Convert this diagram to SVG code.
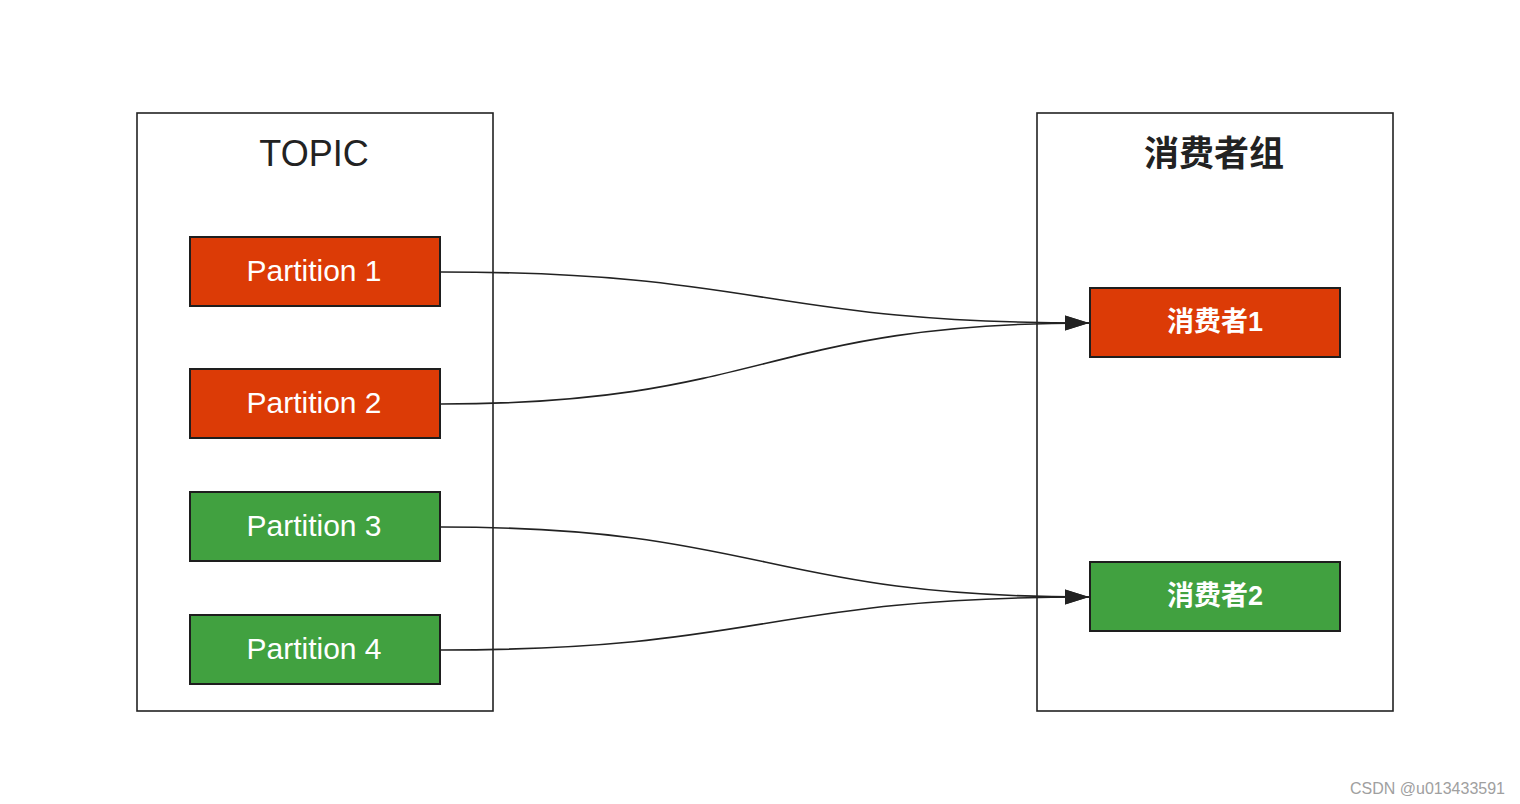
<svg xmlns="http://www.w3.org/2000/svg" width="1520" height="804" viewBox="0 0 1520 804">
<style>
.frame{fill:#fff;stroke:#222;stroke-width:1.6}
.red{fill:#DC3B06;stroke:#1e1e1e;stroke-width:2}
.green{fill:#41A140;stroke:#1e1e1e;stroke-width:2}
.ptxt{font-family:"Liberation Sans",Arial,sans-serif;font-size:30px;fill:#fff;text-anchor:middle}
.ctxt{font-family:"Liberation Sans","Noto Sans CJK SC",sans-serif;font-size:27px;font-weight:bold;fill:#fff;text-anchor:middle}
.title{font-family:"Liberation Sans",Arial,sans-serif;font-size:36px;fill:#222;text-anchor:middle}
.ctitle{font-family:"Noto Sans CJK SC",sans-serif;font-size:35px;font-weight:bold;fill:#222;text-anchor:middle}
.edge{fill:none;stroke:#222;stroke-width:1.6}
</style>
<defs>
<marker id="arr" markerUnits="userSpaceOnUse" markerWidth="25" markerHeight="16" refX="24" refY="8" orient="auto" viewBox="0 0 25 16">
<path d="M0,0.5 L24,8 L0,15.5 Z" fill="#222"/>
</marker>
</defs>
<rect width="1520" height="804" fill="#fff"/>
<g id="topic">
<rect class="frame" x="137" y="113" width="356" height="598"/>
<text class="title" x="314" y="166">TOPIC</text>
</g>
<g id="group">
<rect class="frame" x="1037" y="113" width="356" height="598"/>
<text class="ctitle" x="1214" y="166">消费者组</text>
</g>
<g id="p1"><rect class="red" x="190" y="237" width="250" height="69"/><text class="ptxt" x="314" y="281">Partition 1</text></g>
<g id="p2"><rect class="red" x="190" y="369" width="250" height="69"/><text class="ptxt" x="314" y="413">Partition 2</text></g>
<g id="p3"><rect class="green" x="190" y="492" width="250" height="69"/><text class="ptxt" x="314" y="536">Partition 3</text></g>
<g id="p4"><rect class="green" x="190" y="615" width="250" height="69"/><text class="ptxt" x="314" y="659">Partition 4</text></g>
<g id="c1"><rect class="red" x="1090" y="288" width="250" height="69"/><text class="ctxt" x="1215" y="331">消费者1</text></g>
<g id="c2"><rect class="green" x="1090" y="562" width="250" height="69"/><text class="ctxt" x="1215" y="605">消费者2</text></g>
<g id="connectors">
<path class="edge" d="M441,272 C765,272 765,323 1089,323" marker-end="url(#arr)"/>
<path class="edge" d="M441,404 C765,404 765,323 1089,323" marker-end="url(#arr)"/>
<path class="edge" d="M441,527 C765,527 765,597 1089,597" marker-end="url(#arr)"/>
<path class="edge" d="M441,650 C765,650 765,597 1089,597" marker-end="url(#arr)"/>
</g>
<text x="1505" y="794" font-family="Liberation Sans,Arial,sans-serif" font-size="16" fill="#a0a0a0" text-anchor="end">CSDN @u013433591</text>
</svg>
